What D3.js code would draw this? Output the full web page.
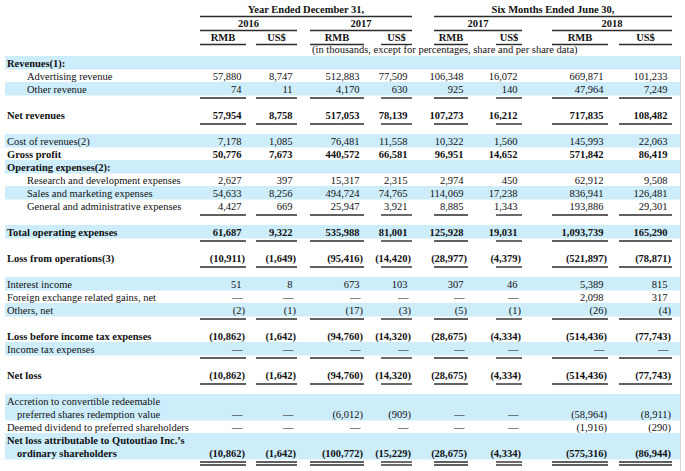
<!DOCTYPE html>
<html><head><meta charset="utf-8">
<script src="https://cdn.jsdelivr.net/npm/d3@7"></script>
<style>body{margin:0;background:#fff}svg{display:block}</style>
</head><body><svg id="c" width="685" height="471"></svg>
<script>
// ---------- data ----------
const columnKeys = ["y2016rmb","y2016usd","y2017rmb","y2017usd","h2017rmb","h2017usd","h2018rmb","h2018usd"];
const currencyLabels = ["RMB","US$","RMB","US$","RMB","US$","RMB","US$"];
const yearLabels = ["2016","2017","2017","2018"];
const periodLabels = ["Year Ended December 31,","Six Months Ended June 30,"];
const unitNote = "(in thousands, except for percentages, share and per share data)";

const advertisingRevenue = [57880, 8747, 512883, 77509, 106348, 16072, 669871, 101233];
const otherRevenue       = [74, 11, 4170, 630, 925, 140, 47964, 7249];
const netRevenues        = [57954, 8758, 517053, 78139, 107273, 16212, 717835, 108482];
const costOfRevenues     = [7178, 1085, 76481, 11558, 10322, 1560, 145993, 22063];
const grossProfit        = [50776, 7673, 440572, 66581, 96951, 14652, 571842, 86419];
const researchDev        = [2627, 397, 15317, 2315, 2974, 450, 62912, 9508];
const salesMarketing     = [54633, 8256, 494724, 74765, 114069, 17238, 836941, 126481];
const generalAdmin       = [4427, 669, 25947, 3921, 8885, 1343, 193886, 29301];
const totalOpex          = [61687, 9322, 535988, 81001, 125928, 19031, 1093739, 165290];
const lossFromOps        = [-10911, -1649, -95416, -14420, -28977, -4379, -521897, -78871];
const interestIncome     = [51, 8, 673, 103, 307, 46, 5389, 815];
const fxGains            = [null, null, null, null, null, null, 2098, 317];
const othersNet          = [-2, -1, -17, -3, -5, -1, -26, -4];
const lossBeforeTax      = [-10862, -1642, -94760, -14320, -28675, -4334, -514436, -77743];
const incomeTax          = [null, null, null, null, null, null, null, null];
const netLoss            = [-10862, -1642, -94760, -14320, -28675, -4334, -514436, -77743];
const accretion          = [null, null, -6012, -909, null, null, -58964, -8911];
const deemedDividend     = [null, null, null, null, null, null, -1916, -290];
const netLossOrdinary    = [-10862, -1642, -100772, -15229, -28675, -4334, -575316, -86944];

// row table: slot = vertical row index
const rows = [
  {lines:["Revenues(1):"], slot:0, values:null, bold:true, band:true},
  {lines:["Advertising revenue"], slot:1, values:advertisingRevenue, sub:true},
  {lines:["Other revenue"], slot:2, values:otherRevenue, sub:true, band:true, rule:1},
  {lines:["Net revenues"], slot:4, values:netRevenues, bold:true, vbold:true, rule:1},
  {lines:["Cost of revenues(2)"], slot:6, values:costOfRevenues, band:true},
  {lines:["Gross profit"], slot:7, values:grossProfit, bold:true, vbold:true},
  {lines:["Operating expenses(2):"], slot:8, values:null, bold:true, band:true},
  {lines:["Research and development expenses"], slot:9, values:researchDev, sub:true},
  {lines:["Sales and marketing expenses"], slot:10, values:salesMarketing, sub:true, band:true},
  {lines:["General and administrative expenses"], slot:11, values:generalAdmin, sub:true, rule:1},
  {lines:["Total operating expenses"], slot:13, values:totalOpex, bold:true, vbold:true, band:true, rule:1},
  {lines:["Loss from operations(3)"], slot:15, values:lossFromOps, bold:true, vbold:true, rule:1},
  {lines:["Interest income"], slot:17, values:interestIncome, band:true},
  {lines:["Foreign exchange related gains, net"], slot:18, values:fxGains},
  {lines:["Others, net"], slot:19, values:othersNet, band:true, rule:1},
  {lines:["Loss before income tax expenses"], slot:21, values:lossBeforeTax, bold:true, vbold:true},
  {lines:["Income tax expenses"], slot:22, values:incomeTax, band:true, rule:1},
  {lines:["Net loss"], slot:24, values:netLoss, bold:true, vbold:true, rule:1},
  {lines:["Accretion to convertible redeemable","preferred shares redemption value"], slot:26, values:accretion, band:true},
  {lines:["Deemed dividend to preferred shareholders"], slot:28, values:deemedDividend},
  {lines:["Net loss attributable to Qutoutiao Inc.\u2019s","ordinary shareholders"], slot:29, values:netLossOrdinary, bold:true, vbold:true, band:true, rule:2}
];

// ---------- layout ----------
const svg = d3.select("#c");
const FONT = "'Liberation Serif','Times New Roman',serif";
const FS = 10.5;
const ink = "#111";
const ruleColor = "#2b2b2b";
const bandColor = "#cdedfb";
const RW = 1.4;

const colLeft  = d3.scaleOrdinal(columnKeys, [200,256,310,381,434,496,552,619]);
const colRight = d3.scaleOrdinal(columnKeys, [246,297,364,412,468,522,608,672]);
const y = d3.scaleLinear([0,30],[63,453]);
const pitch = y(1) - y(0);
const fmt = d3.format(",");

// header
const hdr = svg.append("g").attr("font-family",FONT).attr("font-size",FS).attr("font-weight","bold").attr("fill",ink);
const groups = [[0,3],[4,7]];
groups.forEach((g,i)=>{
  const x0 = colLeft(columnKeys[g[0]]), x1 = colRight(columnKeys[g[1]]);
  hdr.append("text").attr("x",(x0+x1)/2).attr("y",12.5).attr("text-anchor","middle").text(periodLabels[i]);
  svg.append("line").attr("x1",x0).attr("x2",x1).attr("y1",16.5).attr("y2",16.5).attr("stroke",ruleColor).attr("stroke-width",RW);
});
yearLabels.forEach((lab,i)=>{
  const x0 = colLeft(columnKeys[i*2]), x1 = colRight(columnKeys[i*2+1]);
  hdr.append("text").attr("x",(x0+x1)/2).attr("y",26.5).attr("text-anchor","middle").text(lab);
  svg.append("line").attr("x1",x0).attr("x2",x1).attr("y1",30.5).attr("y2",30.5).attr("stroke",ruleColor).attr("stroke-width",RW);
});
currencyLabels.forEach((lab,i)=>{
  const k = columnKeys[i], x0 = colLeft(k), x1 = colRight(k);
  hdr.append("text").attr("x",(x0+x1)/2).attr("y",40.5).attr("text-anchor","middle").text(lab);
  svg.append("line").attr("x1",x0).attr("x2",x1).attr("y1",44.5).attr("y2",44.5).attr("stroke",ruleColor).attr("stroke-width",RW);
});
svg.append("text").attr("font-family",FONT).attr("font-size",FS).attr("fill",ink)
  .attr("x",colLeft(columnKeys[2]) + 2).attr("y",53)
  .attr("text-anchor","start").text(unitNote);

// bands
const body = svg.append("g");
rows.filter(r=>r.band).forEach(r=>{
  const top = y(r.slot) - pitch/2 - 0.5;
  body.append("rect").attr("x",5).attr("y",top).attr("width",675)
    .attr("height",pitch*r.lines.length + 0.5).attr("fill",bandColor);
});
// right border
svg.append("line").attr("x1",680.5).attr("x2",680.5).attr("y1",56).attr("y2",471).attr("stroke","#d0d6da").attr("stroke-width",1);

// labels
const lab = svg.append("g").attr("font-family",FONT).attr("font-size",FS).attr("fill",ink);
rows.forEach(r=>{
  r.lines.forEach((t,j)=>{
    const x = r.sub ? 27 : (j>0 ? 17 : 7);
    lab.append("text").attr("x",x).attr("y",y(r.slot+j)+3.7)
      .attr("font-weight",r.bold?"bold":"normal").text(t);
  });
});

// values
const vals = svg.append("g").attr("font-family",FONT).attr("font-size",FS).attr("fill",ink);
rows.filter(r=>r.values).forEach(r=>{
  const vy = y(r.slot + r.lines.length - 1);
  r.values.forEach((v,i)=>{
    const k = columnKeys[i];
    let txt, x;
    if (v === null) { txt = "\u2014"; x = colRight(k) - 3.5; }
    else if (v < 0) { txt = "(" + fmt(-v) + ")"; x = colRight(k) - 1; }
    else { txt = fmt(v); x = colRight(k) - 4.5; }
    vals.append("text").attr("x",x).attr("y",vy+3.7).attr("text-anchor","end")
      .attr("font-weight",r.vbold?"bold":"normal").text(txt);
    if (r.rule) {
      const ly = vy + 9;
      vals.append("line").attr("x1",colLeft(k)).attr("x2",colRight(k)).attr("y1",ly).attr("y2",ly)
        .attr("stroke",ruleColor).attr("stroke-width",RW);
      if (r.rule === 2) vals.append("line").attr("x1",colLeft(k)).attr("x2",colRight(k)).attr("y1",ly+3).attr("y2",ly+3)
        .attr("stroke",ruleColor).attr("stroke-width",RW);
    }
  });
});
</script></body></html>
